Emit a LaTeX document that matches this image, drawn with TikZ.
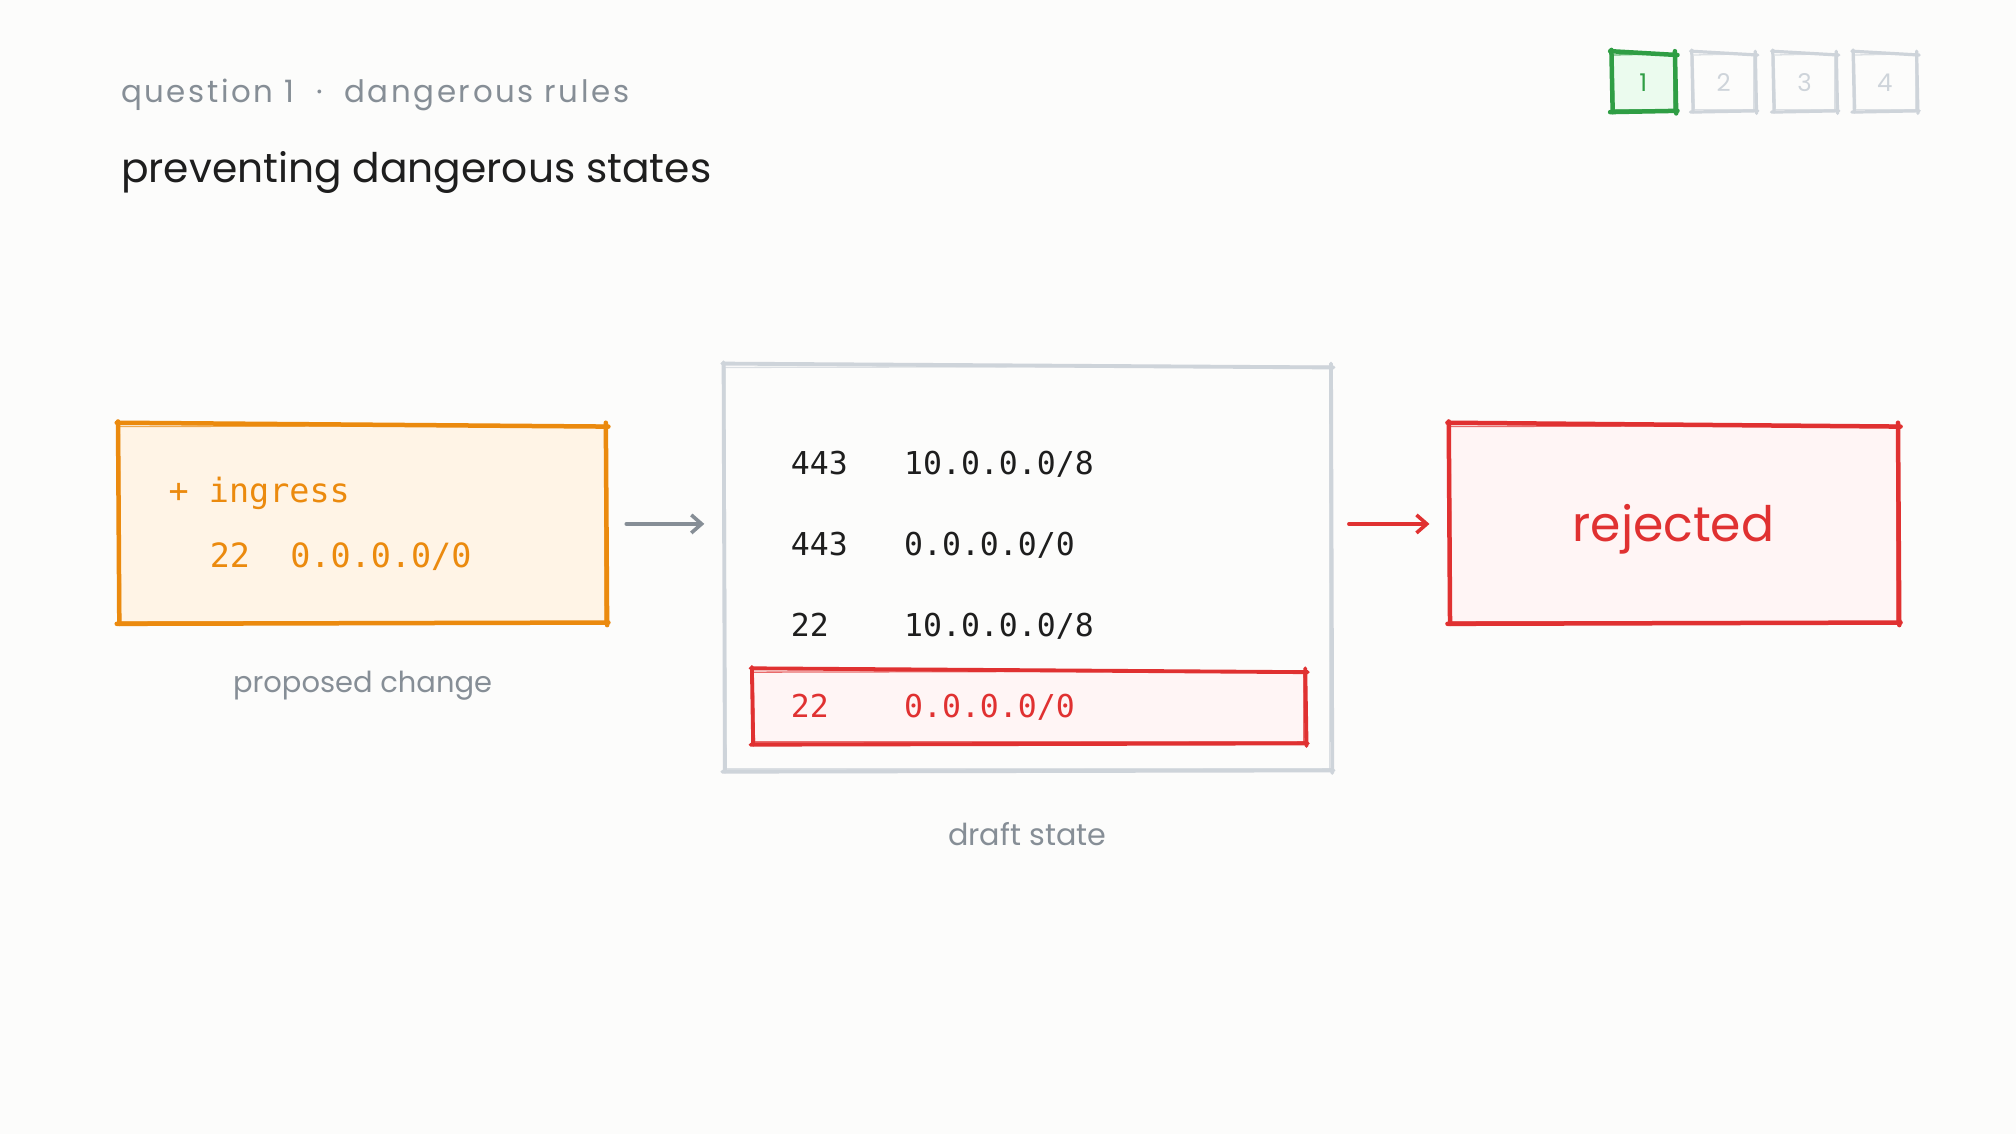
\documentclass[tikz,border=0pt]{standalone}
\usepackage{fontspec}
\setmainfont{Poppins}
\newfontfamily\subfont[LetterSpace=8.5]{Poppins}
\newfontfamily\codefont{DejaVu Sans Mono}
\usetikzlibrary{arrows.meta,calc}
\definecolor{bg}{HTML}{FCFCFB}
\definecolor{txtgray}{HTML}{868E96}
\definecolor{dark}{HTML}{1E1E1E}
\definecolor{orng}{HTML}{EB8A0E}
\definecolor{orngfill}{HTML}{FFF4E6}
\definecolor{rd}{HTML}{E03131}
\definecolor{rdfill}{HTML}{FFF5F5}
\definecolor{grn}{HTML}{2F9E44}
\definecolor{grnfill}{HTML}{EBFBEE}
\definecolor{boxgray}{HTML}{CED4DA}
\newcommand\skrect[2]{%
  \draw[#2] ($(#1.north west)+(-1,-2)$) -- ($(#1.north east)+(2,1)$);
  \draw[#2] ($(#1.north east)+(0,-2)$) -- ($(#1.south east)+(1,2)$);
  \draw[#2] ($(#1.south east)+(2,0)$) -- ($(#1.south west)+(-1,1)$);
  \draw[#2] ($(#1.south west)+(1,1)$) -- ($(#1.north west)+(0,-3)$);
  \draw[#2, line width=1pt, opacity=0.7] ($(#1.north west)+(1,1)$) -- ($(#1.north east)+(-1,0)$);
  \draw[#2, line width=1pt, opacity=0.7] ($(#1.north east)+(-1,1)$) -- ($(#1.south east)+(-1,-1)$);
  \draw[#2, line width=1pt, opacity=0.7] ($(#1.south east)+(0,-1)$) -- ($(#1.south west)+(2,-1)$);
  \draw[#2, line width=1pt, opacity=0.7] ($(#1.south west)+(2,-2)$) -- ($(#1.north west)+(1,2)$);
}
\tikzset{
  panel/.style={inner sep=0pt, rectangle},
  sk/.style={line cap=round, line join=round},
  code/.style={anchor=base west, inner sep=0pt, font=\codefont\fontsize{24.5}{28}\selectfont},
  caption/.style={inner sep=0pt, text=txtgray, font=\fontsize{23.5}{28}\selectfont},
  pagebox/.style={panel, minimum width=49pt, minimum height=44pt, font=\fontsize{19}{20}\selectfont},
  flow/.style={line width=3pt, line cap=round, -{Straight Barb[length=8pt,width=14pt,line width=2.8pt]}},
}
\begin{document}
\begin{tikzpicture}[x=1pt,y=-1pt]
\fill[bg] (0,0) rectangle (1568,882);
\useasboundingbox (0,0) rectangle (1568,882);

% header
\node[anchor=base west, inner sep=0pt, text=txtgray, font=\subfont\fontsize{24}{28}\selectfont] (sub) at (94,80) {question 1\ \ ·\ \ dangerous rules};
\node[anchor=base west, inner sep=0pt, text=dark, font=\fontsize{31.7}{36}\selectfont] (title) at (94,142) {preventing dangerous states};

% pagination
\node[pagebox, fill=grnfill, text=grn] (p1) at (1278,64) {1};
\node[pagebox, text=boxgray] (p2) at (1340.5,64) {2};
\node[pagebox, text=boxgray] (p3) at (1403.5,64) {3};
\node[pagebox, text=boxgray] (p4) at (1466,64) {4};
\skrect{p1}{sk, grn, line width=3.5pt}
\skrect{p2}{sk, boxgray, line width=2.5pt}
\skrect{p3}{sk, boxgray, line width=2.5pt}
\skrect{p4}{sk, boxgray, line width=2.5pt}

% proposed change
\node[panel, fill=orngfill, minimum width=379pt, minimum height=153pt] (prop) at (281.5,407.5) {};
\skrect{prop}{sk, orng, line width=3.5pt}
\node[code, text=orng, font=\codefont\fontsize{26}{30}\selectfont] (pl1) at (131,391) {+ ingress};
\node[code, text=orng, font=\codefont\fontsize{26}{30}\selectfont] (pl2) at (163,441) {22\ \ 0.0.0.0/0};
\node[caption, font=\fontsize{22.5}{28}\selectfont] (propcap) at (282,533) {proposed change};

% draft state
\node[panel, fill=bg, minimum width=472pt, minimum height=314pt] (draft) at (799,442) {};
\skrect{draft}{sk, boxgray, line width=3pt}
\node[panel, fill=rdfill, minimum width=430pt, minimum height=56pt] (hl) at (800,550) {};
\skrect{hl}{sk, rd, line width=3pt}
\node[code, text=dark] (r1a) at (615,369) {443};
\node[code, text=dark] (r1b) at (703,369) {10.0.0.0/8};
\node[code, text=dark] (r2a) at (615,432) {443};
\node[code, text=dark] (r2b) at (703,432) {0.0.0.0/0};
\node[code, text=dark] (r3a) at (615,495) {22};
\node[code, text=dark] (r3b) at (703,495) {10.0.0.0/8};
\node[code, text=rd] (r4a) at (615,558) {22};
\node[code, text=rd] (r4b) at (703,558) {0.0.0.0/0};
\node[caption] (draftcap) at (799,649) {draft state};

% rejected
\node[panel, fill=rdfill, minimum width=349pt, minimum height=153pt] (rej) at (1301.5,407.5) {};
\skrect{rej}{sk, rd, line width=3.5pt}
\node[inner sep=0pt, text=rd, font=\fontsize{38}{44}\selectfont] (rejtxt) at ($(rej.center)+(0,4)$) {rejected};

% connectors
\draw[flow, txtgray, shorten <=16pt, shorten >=15pt] (prop.east) -- (prop.east -| draft.west);
\draw[flow, rd, shorten <=14pt, shorten >=15pt] (draft.east |- rej.west) -- (rej.west);
\end{tikzpicture}
\end{document}
